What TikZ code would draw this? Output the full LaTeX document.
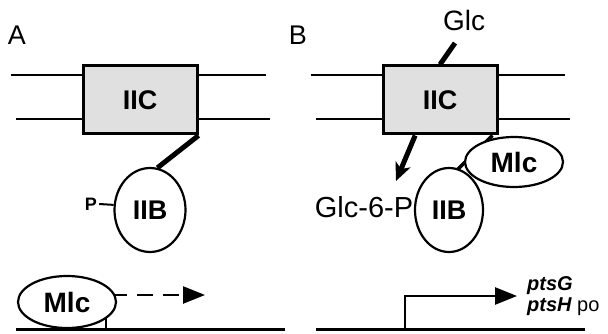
\documentclass[tikz,border=0pt]{standalone}
\usepackage{fontspec}
\setmainfont{Liberation Sans}
\usetikzlibrary{arrows.meta,shapes.geometric}
\definecolor{boxgray}{RGB}{224,224,224}
\begin{document}
\begin{tikzpicture}[x=1pt,y=-1pt]
\tikzstyle{Box} = [draw, fill=boxgray, line width=3, minimum width=114, minimum height=68, inner sep=0, font={\fontsize{27}{30}\selectfont\bfseries}]
\tikzstyle{Oval} = [draw, fill=white, shape=ellipse, line width=2.2, inner sep=0, font={\fontsize{27}{30}\selectfont\bfseries}]
\tikzstyle{Panel} = [inner sep=0, font={\fontsize{27}{30}\selectfont}]
\tikzstyle{Label} = [inner sep=0, font={\fontsize{28}{32}\selectfont}]
\tikzstyle{Gene} = [inner sep=0, anchor=base west, font={\fontsize{20}{22}\selectfont\bfseries\itshape}]
\tikzstyle{Membrane} = [line width=2.5]
\tikzstyle{Dna} = [line width=3]
\tikzstyle{Link} = [line width=5]
\useasboundingbox (0,0) rectangle (608,334);
% panel A
\node [Panel] (a0) at (17,35) {A};
\coordinate (a1) at (11,75);
\coordinate (a2) at (266,75);
\coordinate (a3) at (16,119);
\coordinate (a4) at (270,119);
\draw [Membrane] (a1) -- (a2);
\draw [Membrane] (a3) -- (a4);
\node [Box] (a5) at (140,100) {IIC};
\node [Oval, minimum width=71, minimum height=84] (a6) at (150,210) {IIB};
\node [inner sep=0, font={\fontsize{18}{20}\selectfont\bfseries}] (a7) at (91,204) {P};
\draw [Link] (a5.south east) -- (a6.80);
\draw [line width=2] (a7.east) ++(2,0) -- (a6.172);
\coordinate (a9) at (106,329);
\coordinate (a10) at (106,295);
\coordinate (a11) at (205,295);
\draw [line width=2.5] (a9) -- (a10);
\draw [line width=2.5, dash pattern=on 16pt off 10pt, dash phase=21pt, -{Triangle[length=22,width=17]}] (a10) -- (a11);
\node [Oval, minimum width=98, minimum height=52, font={\fontsize{28}{30}\selectfont\bfseries}] (a8) at (67,302) {Mlc};
\coordinate (a12) at (16,329);
\coordinate (a13) at (285,329);
\draw [Dna] (a12) -- (a13);
% panel B
\node [Panel] (b0) at (298,35) {B};
\coordinate (b16) at (311,75);
\coordinate (b17) at (565,75);
\coordinate (b18) at (316,119);
\coordinate (b19) at (570,119);
\draw [Membrane] (b16) -- (b17);
\draw [Membrane] (b18) -- (b19);
\node [Label] (b1) at (464,20) {Glc};
\coordinate (b2) at (455,43);
\node [Box] (b4) at (440,100) {IIC};
\draw [Link] (b4.north) -- (b2);
\node [Label, font={\fontsize{29}{32}\selectfont}] (b6) at (364,207) {Glc-6-P};
\coordinate (b5) at (396,181);
\draw [Link, -{Stealth[length=18,width=16,inset=5]}] (b4.235) -- (b5);
\draw [line width=3.5] (b4.south east) ++(-6,0) -- (457,170);
\node [Oval, minimum width=98, minimum height=50, font={\fontsize{28}{30}\selectfont\bfseries}] (b8) at (514,162) {Mlc};
\node [Oval, minimum width=68, minimum height=84] (b7) at (449,210) {IIB};
\coordinate (b9) at (405,329);
\coordinate (b10) at (405,296);
\coordinate (b11) at (517,296);
\draw [line width=2.5, -{Triangle[length=22,width=17]}] (b9) -- (b10) -- (b11);
\node [Gene] (b12) at (527,290) {ptsG};
\node [Gene] (b13) at (527,311) {ptsH\normalfont\fontsize{20}{22}\selectfont{} po};
\coordinate (b14) at (316,329);
\coordinate (b15) at (585,329);
\draw [Dna] (b14) -- (b15);
\end{tikzpicture}
\end{document}
